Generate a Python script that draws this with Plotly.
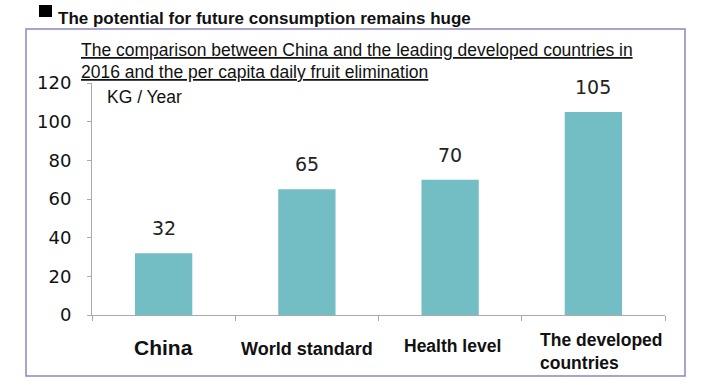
import plotly.graph_objects as go

categories = ["China", "World standard", "Health level", "The developed countries"]
cat_labels = ["China", "World standard", "Health level", "The developed<br>countries"]
values = [32, 65, 70, 105]
y_ticks = [0, 20, 40, 60, 80, 100, 120]

W, H = 702, 391
L, R, T, B = 92, 665, 83, 315

def px(x):
    return (x - L) / (R - L)

def py(y):
    return (B - y) / (B - T)

fig = go.Figure()
fig.add_trace(go.Bar(
    x=categories, y=values,
    marker=dict(color="#72BEC4", line=dict(width=0)),
    width=0.4,
    hoverinfo="skip",
))

annotations = []
for c, v in zip(categories, values):
    annotations.append(dict(
        x=c, y=v, xref="x", yref="y", text=str(v), showarrow=False,
        yanchor="bottom", yshift=12,
        font=dict(family="DejaVu Sans", size=19, color="#222222"),
    ))

label_sizes = [21, 18, 17.5, 17.5]
label_y = [347, 349, 346, 351]
label_dx = [0, 0, 2, 8]
for c, lab, s, yy, dx in zip(categories, cat_labels, label_sizes, label_y, label_dx):
    annotations.append(dict(
        x=c, y=py(yy), xref="x", yref="paper", text="<b>" + lab + "</b>",
        showarrow=False, xanchor="center", yanchor="middle", xshift=dx,
        font=dict(family="Liberation Sans", size=s, color="#111111"),
        align="left",
    ))

annotations += [
    dict(x=px(56), y=py(18), xref="paper", yref="paper", xanchor="left", yanchor="middle",
         text="<b>The potential for future consumption remains huge</b>", showarrow=False,
         font=dict(family="Liberation Sans", size=17, color="#111111")),
    dict(x=px(79), y=py(50), xref="paper", yref="paper", xanchor="left", yanchor="middle",
         text="<u>The comparison between China and the leading developed countries in</u>",
         showarrow=False, font=dict(family="Liberation Sans", size=17.5, color="#111111")),
    dict(x=px(79), y=py(72), xref="paper", yref="paper", xanchor="left", yanchor="middle",
         text="<u>2016 and the per capita daily fruit elimination</u>",
         showarrow=False, font=dict(family="Liberation Sans", size=17.5, color="#111111")),
    dict(x=px(105), y=py(97), xref="paper", yref="paper", xanchor="left", yanchor="middle",
         text="KG / Year", showarrow=False,
         font=dict(family="Liberation Sans", size=17.5, color="#111111")),
]

shapes = [
    dict(type="rect", xref="paper", yref="paper", x0=px(26), x1=px(685), y0=py(376), y1=py(29),
         line=dict(color="#8A86C0", width=1.5), fillcolor="rgba(0,0,0,0)", layer="below"),
    dict(type="rect", xref="paper", yref="paper", x0=px(39), x1=px(52), y0=py(17), y1=py(5),
         line=dict(width=0), fillcolor="#000000"),
]

fig.update_layout(
    width=W, height=H,
    margin=dict(l=L, r=W - R, t=T, b=H - B, pad=0),
    paper_bgcolor="white", plot_bgcolor="white",
    showlegend=False,
    bargap=0.6,
    xaxis=dict(
        type="category", categoryarray=categories, categoryorder="array",
        showticklabels=False, showline=True, linecolor="#AAAAAA", linewidth=1,
        ticks="outside", tickson="boundaries", ticklen=5, tickcolor="#AAAAAA",
        showgrid=False, zeroline=False, fixedrange=True,
    ),
    yaxis=dict(
        range=[0, 120], tickvals=y_ticks, ticktext=[str(t) for t in y_ticks],
        showline=True, linecolor="#AAAAAA", linewidth=1,
        ticks="outside", ticklen=4, tickcolor="#AAAAAA",
        showgrid=False, zeroline=False,
        tickfont=dict(family="DejaVu Sans", size=18, color="#111111"),
        ticklabelstandoff=12, fixedrange=True,
    ),
    annotations=annotations,
    shapes=shapes,
)

fig.write_html("out.html", config={"displayModeBar": False},
               post_script="document.body.style.margin='0';document.body.style.padding='0';")
